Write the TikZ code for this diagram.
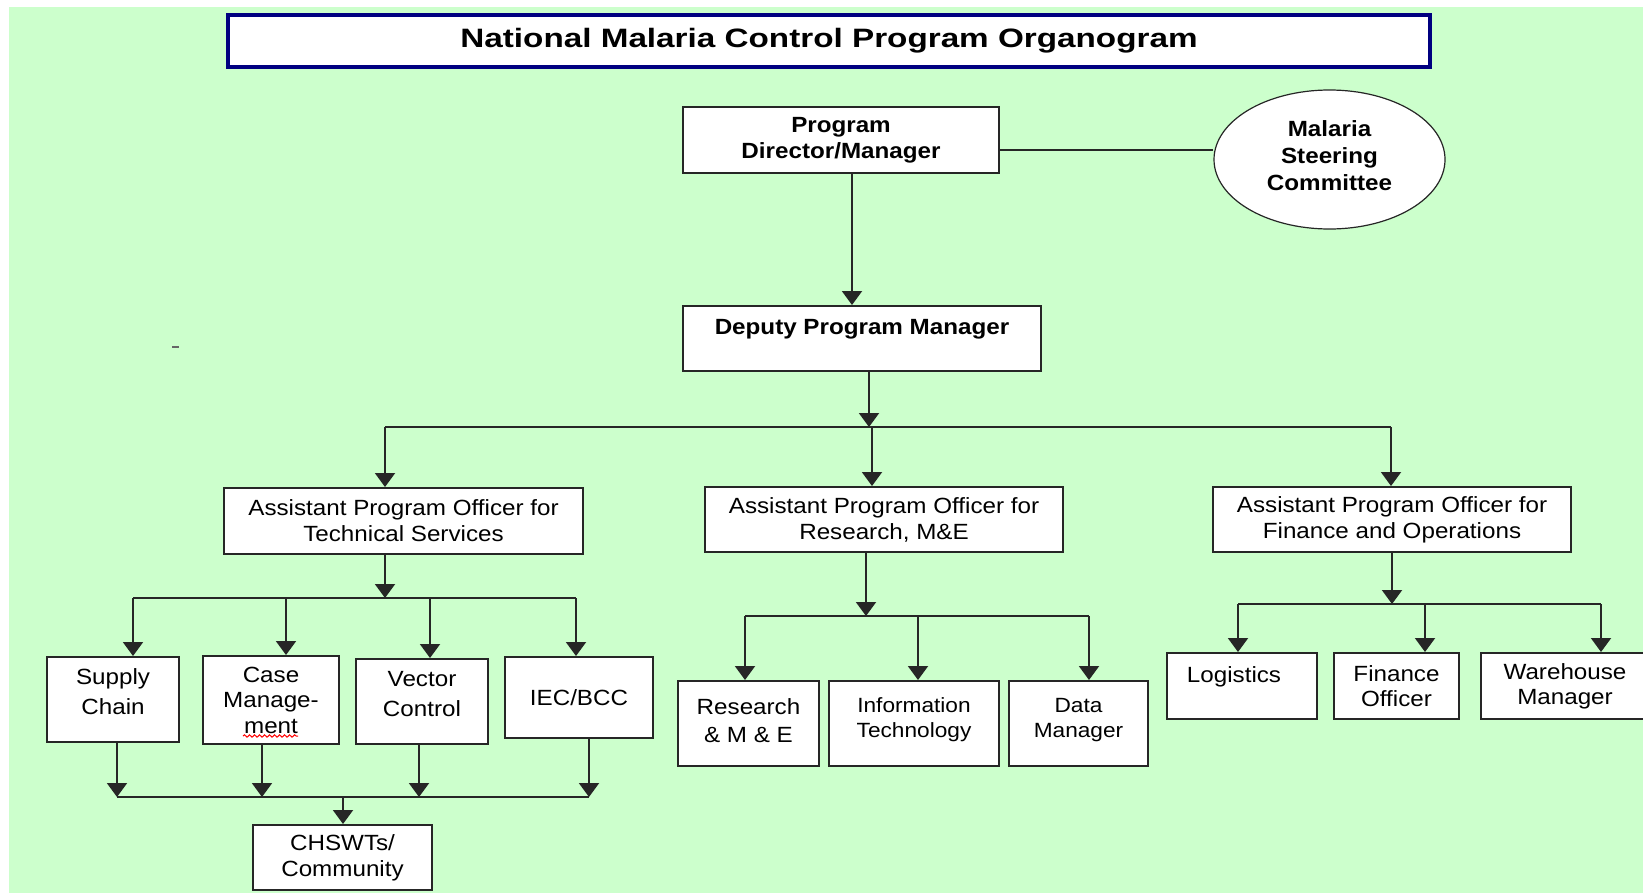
\documentclass[tikz,border=0pt]{standalone}
\usepackage{fontspec}
\setmainfont{Liberation Sans}[FakeStretch=1.1]
\newfontfamily\titlefont{Liberation Sans}[FakeStretch=1.25]
\usetikzlibrary{arrows.meta,shapes.geometric,decorations.pathmorphing}
\definecolor{bggreen}{RGB}{204,255,204}
\definecolor{titlenavy}{RGB}{0,0,128}
% extra depth under the last line, pushes the text up in its box
\newcommand{\orgsink}[1]{\rule[-#1]{0pt}{#1}}
\tikzset{
    orgbox/.style={draw=black!85,fill=white,line width=1pt,align=center,inner sep=1pt,
        font=\fontsize{11}{13}\selectfont},
    headbox/.style={orgbox,font=\fontsize{11}{13}\selectfont\bfseries},
    feed/.style={draw=black!85,line width=1pt,-{Triangle[length=7pt,width=10pt]}},
    busline/.style={draw=black!85,line width=1pt}
}
\begin{document}
\begin{tikzpicture}[x=0.5pt,y=-0.5pt]
    \useasboundingbox (0,0) rectangle (1643,894);
    \clip (0,0) rectangle (1643,894);
    % Page background
    \fill[bggreen] (9,7) rectangle (1643,893);
    \draw[black!60,line width=1pt] (172,347) -- (179,347);
    % Title bar
    \node[draw=titlenavy,line width=1.8pt,fill=white,minimum width=601pt,minimum height=26pt,
        font=\titlefont\fontsize{13.3}{16}\selectfont\bfseries] (title) at (829,41) {National Malaria Control Program Organogram};

    % Director, committee and deputy
    \node[headbox,minimum width=158pt,minimum height=33pt] (pd) at (841,140) {Program\\Director/Manager};
    \node[headbox,ellipse,line width=0.6pt,minimum width=115.5pt,minimum height=69.5pt,
        font=\fontsize{11}{13.5}\selectfont\bfseries] (msc) at (1329.5,159.5) {Malaria\\Steering\\Committee\orgsink{3.5pt}};
    \node[headbox,minimum width=179pt,minimum height=32.5pt] (dpm) at (862,338.5) {Deputy Program Manager\orgsink{11.5pt}};
    \draw[busline,line width=0.65pt] ([yshift=-5pt]pd.east) -- ([yshift=-5pt]pd.east -| msc.west);
    \draw[feed] ([xshift=5.5pt]pd.south) -- ([xshift=5.5pt]pd.south |- dpm.north);

    % Assistant program officers
    \node[orgbox,minimum width=179.5pt,minimum height=33pt] (apots) at (403.5,521) {Assistant Program Officer for\\Technical Services};
    \node[orgbox,minimum width=179pt,minimum height=32.5pt] (apore) at (884,519.5) {Assistant Program Officer for\\Research, M\&E};
    \node[orgbox,minimum width=179pt,minimum height=32.5pt] (apofo) at (1392,519.5) {Assistant Program Officer for\\Finance and Operations};
    \coordinate (hub) at (869,427);
    \coordinate (tsj) at (385,427);
    \coordinate (rej) at (872,427);
    \coordinate (foj) at (1391,427);
    \draw[feed] ([xshift=3.5pt]dpm.south) -- (hub);
    \draw[busline] (tsj) -- (foj);
    \foreach \j/\b in {tsj/apots,rej/apore,foj/apofo}
        \draw[feed] (\j) -- (\j |- \b.north);

    % Technical services
    \node[orgbox,minimum width=66pt,minimum height=42.5pt] (supply) at (113,699.5) {Supply\\[2pt]Chain\orgsink{7.5pt}};
    \node[orgbox,minimum width=68pt,minimum height=44pt,font=\fontsize{11}{12.75}\selectfont] (casem) at (271,700) {Case\\Manage-\\ment};
    \node[orgbox,minimum width=66pt,minimum height=42.5pt] (vector) at (422,701.5) {Vector\\[2pt]Control\orgsink{7.5pt}};
    \node[orgbox,minimum width=74pt,minimum height=40.5pt] (iec) at (579,697.5) {IEC/BCC};
    \node[orgbox,minimum width=89.5pt,minimum height=32.5pt] (chswt) at (342.5,857.5) {CHSWTs/\\Community};
    \draw[red,line width=0.5pt,decorate,decoration={snake,amplitude=0.6pt,segment length=2.5pt}] (243,736) -- (298,736);
    \coordinate (tsd) at (385,598);
    \draw[feed] (tsd |- apots.south) -- (tsd);
    \draw[busline] (133,598) -- (576,598);
    \foreach \x/\b in {133/supply,286/casem,430/vector,576/iec} {
        \coordinate (tap) at (\x,598);
        \draw[feed] (tap) -- (tap |- \b.north);
    }
    \foreach \x/\b in {117/supply,262/casem,419/vector,589/iec} {
        \coordinate (tap) at (\x,797);
        \draw[feed] (tap |- \b.south) -- (tap);
    }
    \draw[busline] (117,797) -- (589,797);
    \coordinate (chj) at (343,797);
    \draw[feed] (chj) -- (chj |- chswt.north);

    % Research, M&E
    \node[orgbox,minimum width=70.5pt,minimum height=42.5pt] (resme) at (748.5,723.5) {Research\\[1pt]\& M \& E\orgsink{2.5pt}};
    \node[orgbox,minimum width=85pt,minimum height=42.5pt,font=\fontsize{10.3}{12.5}\selectfont] (infot) at (914,723.5) {Information\\Technology\orgsink{5.5pt}};
    \node[orgbox,minimum width=69.5pt,minimum height=42.5pt,font=\fontsize{10.3}{12.5}\selectfont] (datam) at (1078.5,723.5) {Data\\Manager\orgsink{5.5pt}};
    \coordinate (red) at (866,616);
    \draw[feed] (red |- apore.south) -- (red);
    \draw[busline] (745,616) -- (1089,616);
    \foreach \x/\b in {745/resme,918/infot,1089/datam} {
        \coordinate (tap) at (\x,616);
        \draw[feed] (tap) -- (tap |- \b.north);
    }

    % Finance and operations
    \node[orgbox,minimum width=75pt,minimum height=33pt] (logis) at (1242,686) {Logistics\hspace*{8pt}\orgsink{11pt}};
    \node[orgbox,minimum width=62.5pt,minimum height=33pt,font=\fontsize{11}{12.5}\selectfont] (fino) at (1396.5,686) {Finance\\Officer};
    \node[orgbox,minimum width=84pt,minimum height=33pt,font=\fontsize{11}{12.5}\selectfont] (wareh) at (1565,686) {Warehouse\\Manager};
    \coordinate (fod) at (1392,604);
    \draw[feed] (fod |- apofo.south) -- (fod);
    \draw[busline] (1238,604) -- (1601,604);
    \foreach \x/\b in {1238/logis,1425/fino,1601/wareh} {
        \coordinate (tap) at (\x,604);
        \draw[feed] (tap) -- (tap |- \b.north);
    }
\end{tikzpicture}
\end{document}
